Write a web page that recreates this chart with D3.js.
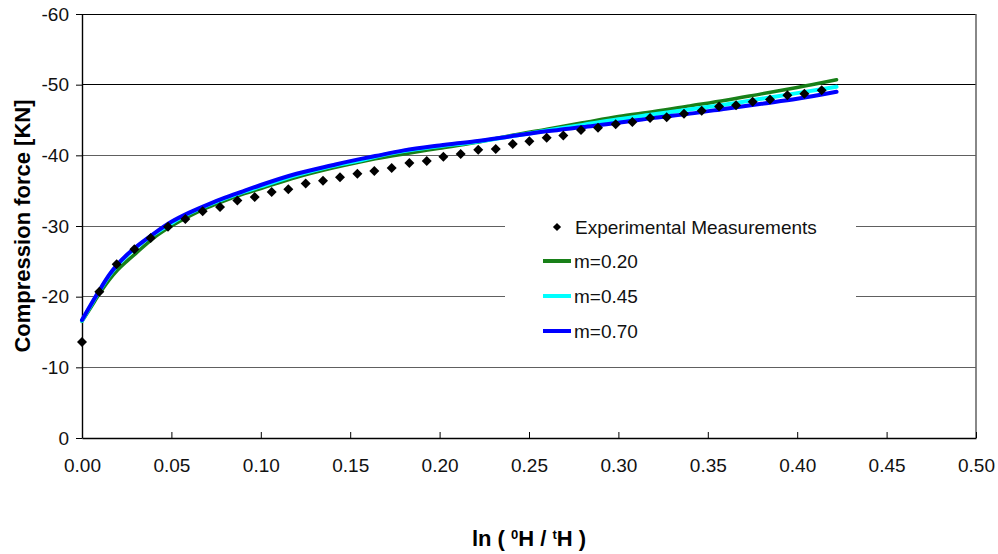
<!DOCTYPE html>
<html><head><meta charset="utf-8">
<script src="https://cdn.jsdelivr.net/npm/d3@7"></script>
<style>body{margin:0;background:#fff;font-family:"Liberation Sans",Arial,sans-serif;}</style>
</head><body>
<svg id="c" width="998" height="554"></svg>
<script>
const xTicks = [0,0.05,0.10,0.15,0.20,0.25,0.30,0.35,0.40,0.45,0.50];
const yTicks = [0,-10,-20,-30,-40,-50,-60];

const expX = [0.000,0.0097,0.0194,0.0293,0.0384,0.0481,0.0578,0.0675,0.0772,0.0869,0.0966,0.1061,0.1154,0.1251,0.1348,0.1443,0.1540,0.1635,0.1732,0.1831,0.1928,0.2021,0.2118,0.2216,0.2314,0.2409,0.2502,0.2599,0.2692,0.2791,0.2886,0.2985,0.3078,0.3177,0.3270,0.3367,0.3466,0.3563,0.3658,0.3751,0.3848,0.3945,0.4040,0.4137];
const expF = [-13.6,-20.7,-24.6,-26.7,-28.3,-29.9,-31.0,-32.1,-32.7,-33.6,-34.1,-34.8,-35.2,-36.0,-36.4,-36.9,-37.4,-37.8,-38.2,-38.9,-39.2,-39.8,-40.2,-40.8,-40.9,-41.6,-42.0,-42.5,-42.8,-43.6,-43.9,-44.4,-44.7,-45.3,-45.4,-45.9,-46.3,-46.9,-47.1,-47.6,-47.9,-48.5,-48.7,-49.2];

const modelX = [0,0.005,0.010,0.015,0.020,0.025,0.030,0.040,0.050,0.060,0.070,0.080,0.090,0.100,0.120,0.140,0.156,0.164,0.180,0.200,0.220,0.240,0.260,0.280,0.300,0.320,0.340,0.360,0.380,0.400,0.422];
const m020 = [-16.5,-18.5,-20.5,-22.3,-23.8,-25.0,-26.1,-28.3,-30.0,-31.4,-32.6,-33.6,-34.5,-35.3,-36.9,-38.2,-39.1,-39.5,-40.2,-41.0,-41.8,-42.8,-43.7,-44.6,-45.5,-46.2,-47.0,-47.8,-48.7,-49.6,-50.7];
const m045 = [-16.6,-18.8,-20.9,-22.9,-24.5,-25.8,-26.9,-28.8,-30.4,-31.8,-32.9,-33.9,-34.8,-35.6,-37.2,-38.5,-39.3,-39.8,-40.6,-41.3,-41.9,-42.7,-43.5,-44.3,-45.1,-45.8,-46.5,-47.2,-48.0,-48.8,-49.7];
const m070 = [-16.7,-18.9,-21.0,-23.0,-24.6,-25.9,-27.0,-28.9,-30.6,-31.9,-33.0,-34.0,-34.9,-35.8,-37.4,-38.6,-39.5,-39.9,-40.7,-41.4,-42.0,-42.7,-43.4,-44.0,-44.6,-45.3,-45.9,-46.6,-47.3,-48.0,-49.0];

const seriesNames = ["m=0.20","m=0.45","m=0.70"];
const seriesColors = ["#188018","#00ffff","#0000ff"];
const seriesWidths = [3.5,4,4];

const FONT = "Liberation Sans, Arial, sans-serif";
const svg = d3.select("#c");
const L=82,R=976,T=14,B=438;
const x = d3.scaleLinear().domain([0,0.5]).range([L,R]);
const y = d3.scaleLinear().domain([0,-60]).range([B,T]);

// gridlines
svg.append("g").selectAll("line").data(yTicks.filter(d=>d!==0)).join("line")
  .attr("x1",L).attr("x2",R).attr("y1",d=>y(d)).attr("y2",d=>y(d))
  .attr("stroke",d=>(d===-60||d===-50)?"#000":"#606060").attr("stroke-width",1).attr("shape-rendering","crispEdges");
// right border
svg.append("line").attr("x1",R).attr("x2",R).attr("y1",T).attr("y2",B)
  .attr("stroke","#606060").attr("stroke-width",1.5);

// legend background
svg.append("rect").attr("x",505).attr("y",202).attr("width",351).attr("height",146).attr("fill","#fff");

// axes
const yAxis = d3.axisLeft(y).tickValues(yTicks).tickSize(6).tickSizeOuter(0).tickFormat(d=>String(d));
const gy = svg.append("g").attr("transform",`translate(${L},0)`).call(yAxis);
gy.selectAll("text").attr("font-size",19).attr("fill","#111").attr("x",-13).attr("font-family",FONT);
const xAxis = d3.axisBottom(x).tickValues(xTicks).tickSize(-6).tickSizeOuter(0).tickFormat(d3.format(".2f"));
const gx = svg.append("g").attr("transform",`translate(0,${B})`).call(xAxis);
gx.selectAll("text").attr("font-size",19).attr("fill","#111").attr("y",21).attr("font-family",FONT);
svg.selectAll(".domain").attr("stroke","#000").attr("stroke-width",1.4);
svg.selectAll(".tick line").attr("stroke","#000");

// model lines
const line = d3.line().x(d=>x(d[0])).y(d=>y(d[1])).curve(d3.curveMonotoneX);
[m020,m045,m070].forEach((vals,i)=>{
  svg.append("path").datum(modelX.map((v,j)=>[v,vals[j]]))
    .attr("d",line).attr("fill","none").attr("stroke",seriesColors[i])
    .attr("stroke-width",seriesWidths[i]).attr("stroke-linecap","round").attr("stroke-linejoin","round");
});

// experimental points
const diamond = d3.symbol().type(d3.symbolSquare).size(50);
svg.append("g").selectAll("path").data(expX.map((v,i)=>[v,expF[i]])).join("path")
  .attr("d",diamond).attr("fill","#000")
  .attr("transform",d=>`translate(${x(d[0])},${y(d[1])}) rotate(45)`);

// legend
const lg = svg.append("g").attr("font-family",FONT).attr("font-size",19).attr("fill","#111");
lg.append("path").attr("d",d3.symbol().type(d3.symbolSquare).size(34)).attr("fill","#000")
  .attr("transform","translate(557,227) rotate(45)");
lg.append("text").attr("x",575).attr("y",227).attr("dy","0.35em").text("Experimental Measurements");
seriesNames.forEach((n,i)=>{
  const yy = 261 + i*35;
  lg.append("line").attr("x1",543).attr("x2",571).attr("y1",yy).attr("y2",yy)
    .attr("stroke",seriesColors[i]).attr("stroke-width",4);
  lg.append("text").attr("x",574).attr("y",yy).attr("dy","0.35em").text(n);
});

// axis titles
svg.append("text").attr("transform",`translate(30,${(T+B)/2}) rotate(-90)`)
  .attr("text-anchor","middle").attr("font-weight","bold").attr("font-size",22)
  .attr("font-family",FONT).attr("fill","#000")
  .text("Compression force [KN]");
const xt = svg.append("text").attr("x",529).attr("y",546).attr("text-anchor","middle")
  .attr("font-weight","bold").attr("font-size",22).attr("font-family",FONT).attr("fill","#000");
xt.append("tspan").text("ln ( ");
xt.append("tspan").attr("baseline-shift","super").attr("font-size",13).text("0");
xt.append("tspan").text("H / ");
xt.append("tspan").attr("baseline-shift","super").attr("font-size",13).text("t");
xt.append("tspan").text("H )");
</script>
</body></html>
